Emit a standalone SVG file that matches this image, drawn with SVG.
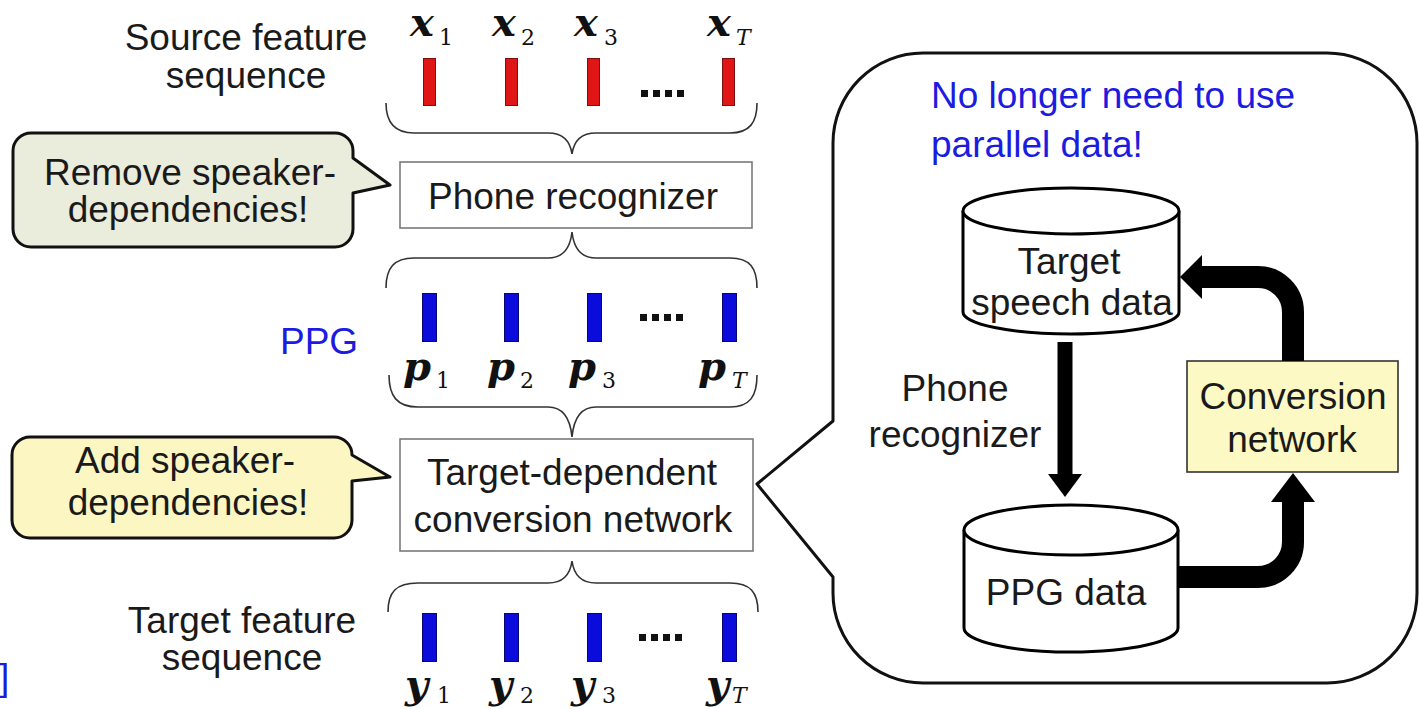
<svg xmlns="http://www.w3.org/2000/svg" width="1420" height="709" viewBox="0 0 1420 709">
  <style>
    .lbl { font-family: "Liberation Sans", Arial, sans-serif; font-size: 37px; fill: #1a1a1a; }
    .mid { text-anchor: middle; }
    .blue { fill: #1c1ce0; }
    .math { font-family: "DejaVu Serif", "Liberation Serif", serif; font-weight: bold; font-style: italic; font-size: 40px; fill: #111; }
    .sub { font-family: "DejaVu Serif", "Liberation Serif", serif; font-size: 22px; fill: #111; }
    .subi { font-style: italic; }
    .brace { fill: none; stroke: #333; stroke-width: 1.6; }
    .box { fill: #fff; stroke: #7a7a7a; stroke-width: 1.6; }
    .red { fill: #e01515; stroke: #7a1010; stroke-width: 1; }
    .bar { fill: #0b0bdc; stroke: #06066e; stroke-width: 1; }
    .dot { fill: #111; }
    .cyl { fill: #fff; stroke: #000; stroke-width: 3; }
    .thick { fill: none; stroke: #000; stroke-width: 22; }
    .callout { stroke: #111; stroke-width: 3; stroke-linejoin: round; }
  </style>

  <rect width="1420" height="709" fill="#fff"/>

  <!-- sequence labels on the left -->
  <g id="source-label">
    <text class="lbl mid" x="246" y="50">Source feature</text>
    <text class="lbl mid" x="246" y="88">sequence</text>
  </g>
  <g id="ppg-label">
    <text class="lbl blue" x="280" y="354">PPG</text>
  </g>
  <g id="target-label">
    <text class="lbl mid" x="242" y="633">Target feature</text>
    <text class="lbl mid" x="242" y="670">sequence</text>
  </g>
  <text class="lbl blue" x="-1" y="690" font-size="36">]</text>

  <!-- source frames x_1 .. x_T -->
  <g id="source-frames">
    <text class="math" x="410" y="36">x</text><text class="sub" x="439" y="45">1</text>
    <text class="math" x="492" y="36">x</text><text class="sub" x="521" y="45">2</text>
    <text class="math" x="574" y="36">x</text><text class="sub" x="604" y="45">3</text>
    <text class="math" x="707" y="36">x</text><text class="sub subi" x="736" y="45">T</text>
    <rect class="red" x="423.5" y="58.5" width="12" height="47"/>
    <rect class="red" x="505.5" y="58.5" width="12" height="47"/>
    <rect class="red" x="587.5" y="58.5" width="12" height="47"/>
    <rect class="red" x="722.5" y="58.5" width="12" height="47"/>
    <rect class="dot" x="641" y="90" width="7" height="7"/>
    <rect class="dot" x="653" y="90" width="7" height="7"/>
    <rect class="dot" x="665" y="90" width="7" height="7"/>
    <rect class="dot" x="677" y="90" width="7" height="7"/>
  </g>

  <!-- PPG frames p_1 .. p_T -->
  <g id="ppg-frames">
    <rect class="bar" x="422.5" y="293.5" width="14" height="48"/>
    <rect class="bar" x="504.5" y="293.5" width="14" height="48"/>
    <rect class="bar" x="587.5" y="293.5" width="14" height="48"/>
    <rect class="bar" x="722.5" y="293.5" width="14" height="48"/>
    <rect class="dot" x="640" y="314" width="7" height="7"/>
    <rect class="dot" x="652" y="314" width="7" height="7"/>
    <rect class="dot" x="664" y="314" width="7" height="7"/>
    <rect class="dot" x="676" y="314" width="7" height="7"/>
    <text class="math" x="403" y="380">p</text><text class="sub" x="436" y="388">1</text>
    <text class="math" x="487" y="380">p</text><text class="sub" x="520" y="388">2</text>
    <text class="math" x="568" y="380">p</text><text class="sub" x="602" y="388">3</text>
    <text class="math" x="698" y="380">p</text><text class="sub subi" x="732" y="388">T</text>
  </g>

  <!-- target frames y_1 .. y_T -->
  <g id="target-frames">
    <rect class="bar" x="422.5" y="613.5" width="14" height="48"/>
    <rect class="bar" x="504.5" y="613.5" width="14" height="48"/>
    <rect class="bar" x="587.5" y="613.5" width="14" height="48"/>
    <rect class="bar" x="722.5" y="613.5" width="14" height="48"/>
    <rect class="dot" x="639" y="634" width="7" height="7"/>
    <rect class="dot" x="651" y="634" width="7" height="7"/>
    <rect class="dot" x="663" y="634" width="7" height="7"/>
    <rect class="dot" x="675" y="634" width="7" height="7"/>
    <text class="math" x="405" y="698">y</text><text class="sub" x="437" y="703">1</text>
    <text class="math" x="489" y="698">y</text><text class="sub" x="520" y="703">2</text>
    <text class="math" x="571" y="698">y</text><text class="sub" x="602" y="703">3</text>
    <text class="math" x="706" y="698">y</text><text class="sub subi" x="732" y="703">T</text>
  </g>

  <!-- processing boxes -->
  <g id="phone-recognizer">
    <rect class="box" x="400" y="162" width="352" height="66"/>
    <text class="lbl mid" x="573" y="209">Phone recognizer</text>
  </g>
  <g id="conversion-box">
    <rect class="box" x="400" y="439" width="353" height="112"/>
    <text class="lbl mid" x="572" y="485">Target-dependent</text>
    <text class="lbl mid" x="573" y="532">conversion network</text>
  </g>

  <!-- speech bubbles on the left -->
  <g id="remove-callout">
    <path class="callout" fill="#eaecdc" d="M31 133 H335 A18 18 0 0 1 353 151 V158 L390 185 L353 193 V229 A18 18 0 0 1 335 247 H31 A18 18 0 0 1 13 229 V151 A18 18 0 0 1 31 133 Z"/>
    <text class="lbl mid" x="190" y="185">Remove speaker-</text>
    <text class="lbl mid" x="188" y="222">dependencies!</text>
  </g>
  <g id="add-callout">
    <path class="callout" fill="#fcf6c2" d="M30 437 H334 A18 18 0 0 1 352 455 L390 477 L352 481 V520 A18 18 0 0 1 334 538 H30 A18 18 0 0 1 12 520 V455 A18 18 0 0 1 30 437 Z"/>
    <text class="lbl mid" x="185" y="473">Add speaker-</text>
    <text class="lbl mid" x="188" y="515">dependencies!</text>
  </g>

  <!-- braces joining the frame rows and boxes -->
  <g id="connectors">
    <path class="brace" d="M386 103 C386 122 394 133 414 133 H548 C562 133 570 140 572 154 C574 140 582 133 596 133 H730 C750 133 757 122 757 103"/>
    <path class="brace" d="M386 288 C386 268 394 258 414 258 H548 C562 258 570 250 572 232 C574 250 582 258 596 258 H730 C750 258 757 268 757 288"/>
    <path class="brace" d="M389 375 C389 396 397 407 418 407 H548 C562 407 570 416 572 437 C574 416 582 407 596 407 H730 C750 407 757 396 757 375"/>
    <path class="brace" d="M388 612 C388 592 396 583 418 583 H548 C562 583 570 576 572 561 C574 576 582 583 596 583 H730 C750 583 758 592 758 612"/>
  </g>

  <!-- large callout from the conversion network -->
  <g id="detail-callout">
    <path class="callout" fill="#fff" d="M923 53 H1327 A90 90 0 0 1 1417 143 V593 A90 90 0 0 1 1327 683 H923 A90 90 0 0 1 833 593 V577 L757 484 L833 421 V143 A90 90 0 0 1 923 53 Z"/>
    <text class="lbl blue" x="931" y="108">No longer need to use</text>
    <text class="lbl blue" x="931" y="157">parallel data!</text>
  </g>

  <g id="target-speech-data">
    <path class="cyl" d="M963 211 V312 A108 22 0 0 0 1179 312 V211"/>
    <ellipse class="cyl" cx="1071" cy="211" rx="108" ry="23"/>
    <text class="lbl mid" x="1069" y="274" font-size="30">Target</text>
    <text class="lbl mid" x="1072" y="315" font-size="30">speech data</text>
  </g>

  <g id="ppg-data">
    <path class="cyl" d="M964 530 V628 A107 24 0 0 0 1178 628 V530"/>
    <ellipse class="cyl" cx="1071" cy="530" rx="107" ry="25"/>
    <text class="lbl mid" x="1066" y="605" font-size="31">PPG data</text>
  </g>

  <g id="conversion-network">
    <rect x="1187" y="361" width="211" height="111" fill="#fdf9c4" stroke="#333" stroke-width="1.6"/>
    <text class="lbl mid" x="1293" y="409" font-size="32">Conversion</text>
    <text class="lbl mid" x="1292" y="452" font-size="32">network</text>
  </g>

  <g id="phone-recognizer-label">
    <text class="lbl mid" x="955" y="401" font-size="32">Phone</text>
    <text class="lbl mid" x="955" y="447" font-size="32">recognizer</text>
  </g>

  <!-- flow arrows inside the callout -->
  <g id="flow-arrows">
    <path d="M1065 342 V478" fill="none" stroke="#000" stroke-width="15"/>
    <polygon points="1048,474 1082,474 1065,497" fill="#000"/>
    <path class="thick" d="M1178 577 H1258 A35 35 0 0 0 1293 542 V500"/>
    <polygon points="1271,502 1315,502 1293,473" fill="#000"/>
    <path class="thick" d="M1293 361 V312 A35 35 0 0 0 1258 277 H1199"/>
    <polygon points="1202,255 1202,299 1180,277" fill="#000"/>
  </g>
</svg>
